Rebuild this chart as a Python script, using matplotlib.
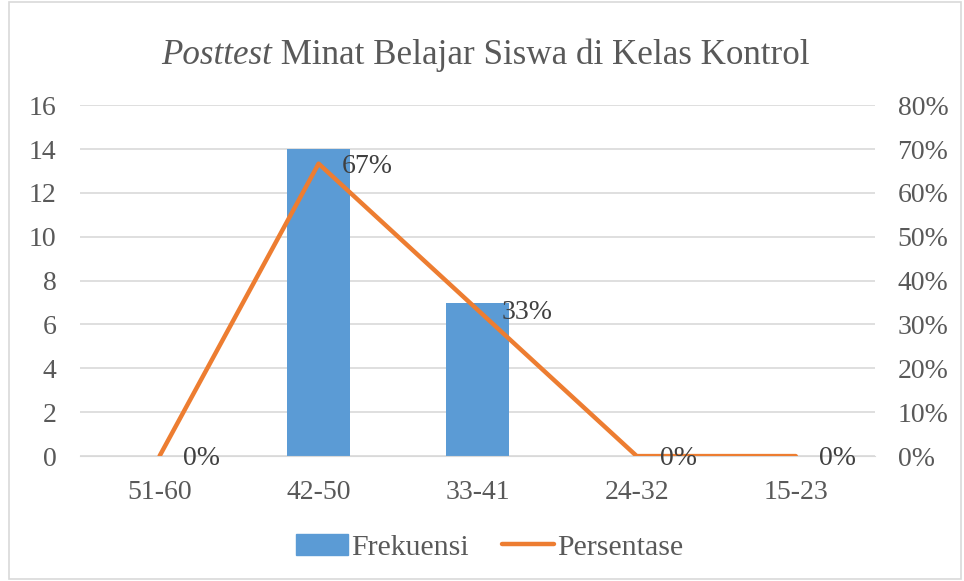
import matplotlib.pyplot as plt
from matplotlib.patches import Rectangle
from matplotlib.lines import Line2D
from matplotlib.ticker import FuncFormatter

# data
categories = ['51-60', '42-50', '33-41', '24-32', '15-23']
frekuensi = [0, 14, 7, 0, 0]
persentase = [0, 66.67, 33.33, 0, 0]
labels = ['0%', '67%', '33%', '0%', '0%']

plt.rcParams['font.family'] = ['Liberation Serif', 'DejaVu Serif']

blue = '#5B9BD5'
orange = '#ED7D31'
gray = '#595959'
fs = 20

fig = plt.figure(figsize=(9.64, 5.81), dpi=100)
fig.patches.append(Rectangle((0.009, 0.003), 0.988, 0.994, transform=fig.transFigure,
                             fill=False, edgecolor='#D9D9D9', linewidth=1.2))

ax = fig.add_axes([0.083, 0.215, 0.825, 0.604])
x = list(range(len(categories)))
ax.bar(x, frekuensi, width=0.4, color=blue, zorder=2)
ax.set_ylim(0, 16)
ax.set_yticks(range(0, 17, 2))
ax.set_xlim(-0.5, 4.5)
ax.set_xticks(x)
ax.set_xticklabels(categories)
ax.grid(axis='y', color='#D9D9D9', linewidth=1.2, zorder=0)
for s in ['top', 'left', 'right']:
    ax.spines[s].set_visible(False)
ax.spines['bottom'].set_color('#D9D9D9')
ax.tick_params(length=0, labelsize=fs, colors=gray)
ax.tick_params(axis='y', pad=17)
ax.tick_params(axis='x', pad=17)

ax2 = ax.twinx()
ax2.plot(x, persentase, color=orange, linewidth=3.2, solid_capstyle='round', zorder=3)
ax2.set_ylim(0, 80)
ax2.set_yticks(range(0, 81, 10))
ax2.yaxis.set_major_formatter(FuncFormatter(lambda v, p: '%d%%' % v))
for s in ax2.spines.values():
    s.set_visible(False)
ax2.tick_params(length=0, labelsize=fs, colors=gray, pad=16)

for xi, yi, lb in zip(x, persentase, labels):
    ax2.annotate(lb, (xi, yi), xytext=(17, -2), textcoords='offset points',
                 ha='left', va='center', fontsize=fs, color='#404040')

# title with italic first word
title_a = fig.text(0.0, 0.905, 'Posttest', style='italic', fontsize=25.2, color=gray, va='center')
title_b = fig.text(0.0, 0.905, ' Minat Belajar Siswa di Kelas Kontrol', fontsize=25.2, color=gray, va='center')
fig.canvas.draw()
r = fig.canvas.get_renderer()
wa = title_a.get_window_extent(r).width
wb = title_b.get_window_extent(r).width
W = fig.bbox.width
start = (W - wa - wb) / 2 + 3
title_a.set_x(start / W)
title_b.set_x((start + wa) / W)

handles = [Rectangle((0, 0), 1, 1, color=blue),
           Line2D([0], [0], color=orange, linewidth=3.2, solid_capstyle='round')]
fig.legend(handles, ['Frekuensi', 'Persentase'], loc='center', bbox_to_anchor=(0.508, 0.058),
           ncol=2, frameon=False, fontsize=21.5, labelcolor=gray, handlelength=1.75,
           handletextpad=0.1, columnspacing=1.1)

fig.savefig('out.png', dpi=100)
